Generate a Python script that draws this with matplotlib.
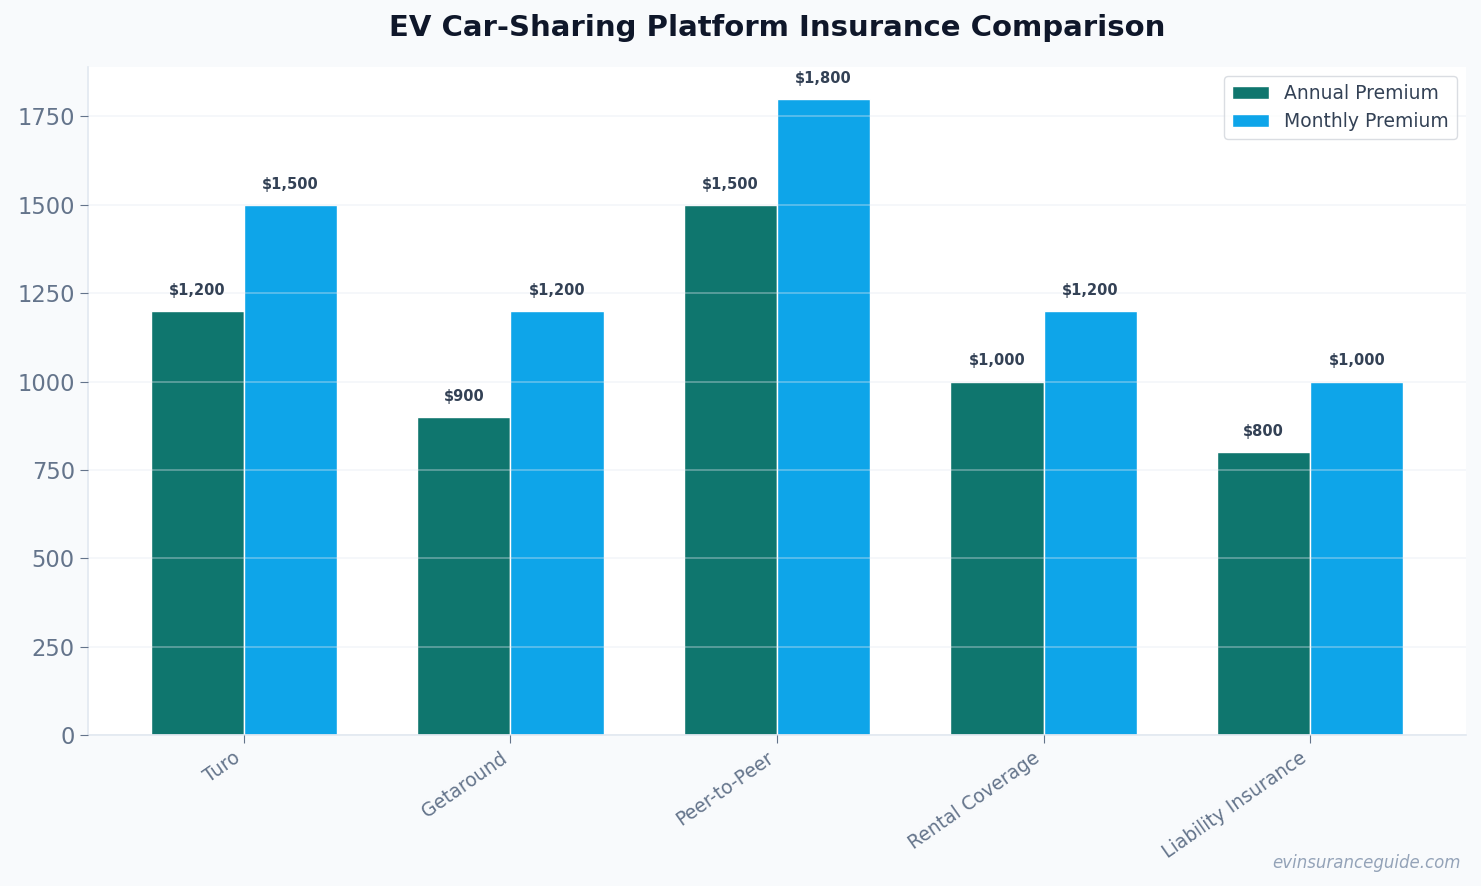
import numpy as np
import matplotlib.pyplot as plt

#### chart data
platforms = ['Turo', 'Getaround', 'Peer-to-Peer', 'Rental Coverage', 'Liability Insurance']
annual_premium = [1200, 900, 1500, 1000, 800]
monthly_premium = [1500, 1200, 1800, 1200, 1000]

plt.rcParams['font.family'] = 'DejaVu Sans'

fig, ax = plt.subplots(figsize=(14.81, 8.86), dpi=100)
fig.patch.set_facecolor('#f8fafc')
ax.set_facecolor('white')
fig.subplots_adjust(left=0.0594, right=0.9899, top=0.9244, bottom=0.1704)

x = np.arange(len(platforms))
w = 0.35
bars1 = ax.bar(x - w / 2, annual_premium, w, label='Annual Premium', color='#0f766e',
               edgecolor='white', linewidth=1, zorder=2)
bars2 = ax.bar(x + w / 2, monthly_premium, w, label='Monthly Premium', color='#0ea5e9',
               edgecolor='white', linewidth=1, zorder=2)

#### value labels on top of bars
for bars in (bars1, bars2):
    for b in bars:
        h = b.get_height()
        ax.annotate(f'${h:,.0f}', (b.get_x() + b.get_width() / 2, h),
                    xytext=(0, 9.5), textcoords='offset points', ha='center', va='bottom',
                    fontsize=10.5, fontweight='bold', color='#334155')

ax.set_ylim(0, max(monthly_premium) * 1.05)
ax.set_xticks(x)
ax.set_xticklabels(platforms, rotation=35, ha='right', fontsize=13.5, color='#64748b')
ax.tick_params(axis='y', labelsize=16.3, labelcolor='#64748b', color='#64748b', length=6)
ax.tick_params(axis='x', color='#64748b', length=6)

ax.yaxis.grid(True, color='#e2e8f0', alpha=0.4, linewidth=1.2, zorder=3)
ax.set_axisbelow(False)
for s in ['top', 'right']:
    ax.spines[s].set_visible(False)
for s in ['left', 'bottom']:
    ax.spines[s].set_color('#e2e8f0')
    ax.spines[s].set_linewidth(1.2)

ax.set_title('EV Car-Sharing Platform Insurance Comparison', fontsize=21, fontweight='bold',
             color='#0f172a', pad=22)

leg = ax.legend(loc='upper right', fontsize=13.5, frameon=True, labelcolor='#334155')
leg.get_frame().set_edgecolor('#d1d5db')
leg.get_frame().set_facecolor('white')

fig.text(0.986, 0.016, 'evinsuranceguide.com', ha='right', va='bottom', fontsize=12,
         style='italic', color='#94a3b8')

plt.savefig('out.png', dpi=100, facecolor=fig.get_facecolor())
